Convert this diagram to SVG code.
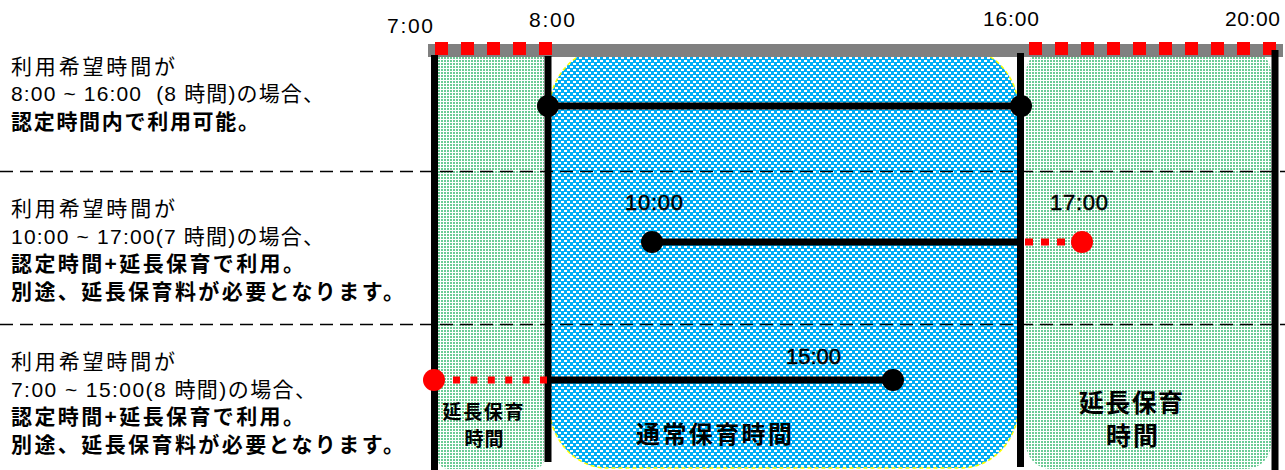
<svg xmlns="http://www.w3.org/2000/svg" width="1285" height="470" viewBox="0 0 1285 470">
<defs>
<pattern id="pg" width="3" height="3" patternUnits="userSpaceOnUse">
<rect width="3" height="3" fill="#ffffff"/>
<rect width="2" height="2" fill="#6ccb95"/>
</pattern>
<pattern id="pb" width="6" height="6" patternUnits="userSpaceOnUse">
<rect width="6" height="6" fill="#00aef5"/>
<rect width="3" height="2" fill="#ffffff"/>
<rect x="3" y="3" width="3" height="2" fill="#ffffff"/>
</pattern>
<style>
.jp{font-family:"Liberation Sans","Noto Sans CJK JP",sans-serif;font-size:21px;fill:#000}
.b{font-weight:bold}
.tm{font-family:"Liberation Sans","Noto Sans CJK JP",sans-serif;font-size:21px;fill:#000}
.tl{font-family:"Liberation Sans",sans-serif;font-size:22px;fill:#000;stroke:#000;stroke-width:0.5}
.lab{font-family:"Liberation Sans","Noto Sans CJK JP",sans-serif;font-weight:bold;fill:#000;text-anchor:middle}
.sep{stroke:#000;stroke-width:1.3;stroke-dasharray:13 7;fill:none}
.vl{stroke:#000;stroke-width:7}
.bl{stroke:#000;stroke-width:7}
.rd{stroke:#ff0000;stroke-width:7}
.rt{stroke:#ff0000;stroke-width:13;stroke-dasharray:13 13}
</style>
</defs>
<rect width="1285" height="470" fill="#ffffff"/>

<g id="regions">
<rect id="ext-left" x="438" y="48" width="106" height="421" rx="10" fill="url(#pg)"/>
<rect id="ext-right" x="1026" y="48" width="245" height="421" rx="25" fill="url(#pg)"/>
<rect id="normal" x="549" y="48" width="470" height="420" rx="58" ry="64" fill="url(#pb)" stroke="#ffff00" stroke-width="1.5" stroke-dasharray="4 3"/>
</g>

<g id="separators">
<line class="sep" x1="0" y1="171.5" x2="1285" y2="171.5"/>
<line class="sep" x1="0" y1="324.5" x2="1285" y2="324.5"/>
</g>

<g id="timebar">
<rect x="428" y="44" width="855" height="13" fill="#808080"/>
<line class="rt" x1="435" y1="48.5" x2="552" y2="48.5"/>
<line class="rt" x1="1029" y1="48.5" x2="1277" y2="48.5"/>
<line class="vl" x1="434.5" y1="55" x2="434.5" y2="470"/>
<line class="vl" x1="548" y1="56" x2="548" y2="462"/>
<line class="vl" x1="1020.5" y1="53" x2="1020.5" y2="467"/>
<line class="vl" x1="1275" y1="50" x2="1275" y2="470"/>
<text class="tm" x="387" y="33" textLength="46">7:00</text>
<text class="tm" x="529" y="27" textLength="46">8:00</text>
<text class="tm" x="983" y="26" textLength="56">16:00</text>
<text class="tm" x="1225" y="26" textLength="55">20:00</text>
</g>

<g id="connectors">
<line class="bl" x1="548" y1="106" x2="1021" y2="106"/>
<line class="bl" x1="652" y1="242" x2="1020" y2="242"/>
<line class="rd" x1="1025" y1="242" x2="1071" y2="242" stroke-dasharray="8 8"/>
<line class="bl" x1="548" y1="380" x2="893" y2="380"/>
<line class="rd" x1="453" y1="380" x2="548" y2="380" stroke-dasharray="7 10.4"/>
</g>

<g id="row1">
<circle cx="548" cy="106" r="11" fill="#000"/>
<circle cx="1021" cy="106" r="11" fill="#000"/>
<text class="jp" x="11" y="74" textLength="164">利用希望時間が</text>
<text class="jp" x="11" y="101" textLength="313" xml:space="preserve">8:00 ~ 16:00  (8 時間)の場合、</text>
<text class="jp b" x="11" y="129" textLength="248">認定時間内で利用可能。</text>
</g>

<g id="row2">
<circle cx="652" cy="242" r="11" fill="#000"/>
<circle cx="1082" cy="242" r="11" fill="#ff0000"/>
<text class="tl" x="625" y="210" textLength="58">10:00</text>
<text class="tl" x="1050" y="210" textLength="58">17:00</text>
<text class="jp" x="11" y="216" textLength="164">利用希望時間が</text>
<text class="jp" x="11" y="244" textLength="313">10:00 ~ 17:00(7 時間)の場合、</text>
<text class="jp b" x="11" y="271" textLength="293">認定時間+延長保育で利用。</text>
<text class="jp b" x="11" y="299" textLength="393">別途、延長保育料が必要となります。</text>
</g>

<g id="row3">
<circle cx="893" cy="380" r="11" fill="#000"/>
<circle cx="434" cy="380" r="11" fill="#ff0000"/>
<text class="tl" x="786" y="364" textLength="55">15:00</text>
<text class="jp" x="11" y="369" textLength="164">利用希望時間が</text>
<text class="jp" x="11" y="397" textLength="305">7:00 ~ 15:00(8 時間)の場合、</text>
<text class="jp b" x="11" y="424" textLength="293">認定時間+延長保育で利用。</text>
<text class="jp b" x="11" y="452" textLength="393">別途、延長保育料が必要となります。</text>
</g>

<g id="labels">
<text class="lab" x="483" y="419" font-size="19" textLength="81">延長保育</text>
<text class="lab" x="484" y="446" font-size="19" textLength="39">時間</text>
<text class="lab" x="714" y="443" font-size="24" textLength="156">通常保育時間</text>
<text class="lab" x="1131" y="412" font-size="25" textLength="104">延長保育</text>
<text class="lab" x="1132" y="445" font-size="25" textLength="52">時間</text>
</g>
</svg>
